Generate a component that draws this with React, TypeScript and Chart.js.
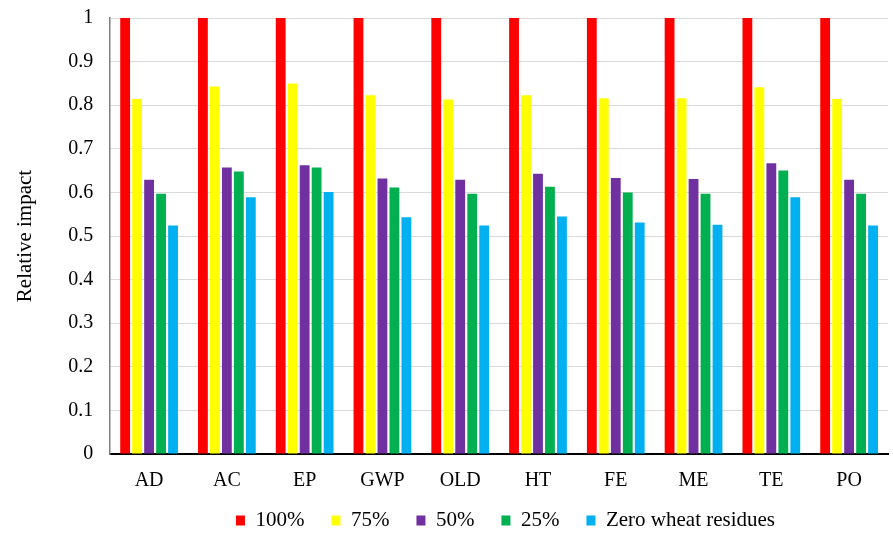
import React, { useEffect, useRef } from "react";
import { Chart, registerables } from "chart.js";

Chart.register(...registerables);

const categories = ["AD", "AC", "EP", "GWP", "OLD", "HT", "FE", "ME", "TE", "PO"];
const seriesNames = ["100%", "75%", "50%", "25%", "Zero wheat residues"];
const s100 = [1, 1, 1, 1, 1, 1, 1, 1, 1, 1];
const s75 = [0.814, 0.843, 0.85, 0.823, 0.813, 0.823, 0.816, 0.816, 0.841, 0.814];
const s50 = [0.629, 0.657, 0.662, 0.632, 0.629, 0.643, 0.633, 0.631, 0.667, 0.629];
const s25 = [0.597, 0.648, 0.657, 0.611, 0.597, 0.613, 0.6, 0.597, 0.65, 0.597];
const s0 = [0.524, 0.589, 0.601, 0.543, 0.524, 0.545, 0.531, 0.526, 0.589, 0.524];
const colors = ["#ff0000", "#ffff00", "#7030a0", "#00b050", "#00b0f0"];

const legendShift = {
  id: "legendShift",
  afterLayout(chart: any) {
    const lg = chart.legend;
    if (lg) {
      lg.top -= 25;
      lg.bottom -= 25;
      lg.left += 55;
      lg.right += 55;
    }
  },
};

export default function App() {
  const ref = useRef<HTMLCanvasElement>(null);
  useEffect(() => {
    if (!ref.current) return;
    const font = "'Liberation Serif', 'Times New Roman', serif";
    const data = [s100, s75, s50, s25, s0];
    const chart = new Chart(ref.current, {
      type: "bar",
      data: {
        labels: categories,
        datasets: data.map((d, i) => ({
          label: seriesNames[i],
          data: d,
          backgroundColor: colors[i],
          borderWidth: 0,
          barPercentage: 0.82,
          categoryPercentage: 0.77,
        })),
      },
      options: {
        animation: false,
        responsive: true,
        maintainAspectRatio: false,
        layout: { padding: { left: 13, right: 5, top: 18, bottom: -33 } },
        plugins: {
          legend: {
            position: "bottom",
            labels: {
              boxWidth: 9,
              boxHeight: 10,
              padding: 27,
              color: "#000",
              font: { family: font, size: 21 },
            },
          },
          tooltip: { enabled: false },
        },
        scales: {
          x: {
            grid: { display: false, drawTicks: false },
            border: { color: "#000", width: 2 },
            ticks: { color: "#000", font: { family: font, size: 20 }, padding: 15 },
          },
          y: {
            min: 0,
            max: 1,
            ticks: {
              stepSize: 0.1,
              color: "#000",
              font: { family: font, size: 20 },
              padding: 0,
              callback: (v: any) => String(Math.round(Number(v) * 10) / 10),
            },
            grid: {
              color: "#d9d9d9",
              lineWidth: 1,
              drawTicks: true,
              tickLength: 17,
              tickColor: "rgba(0,0,0,0)",
            },
            border: { color: "#7f7f7f", width: 1.5 },
            title: {
              display: true,
              text: "Relative impact",
              color: "#000",
              font: { family: font, size: 21 },
              padding: { top: 0, bottom: 30 },
            },
          },
        },
      },
      plugins: [legendShift],
    });
    return () => chart.destroy();
  }, []);
  return (
    <div style={{ position: "fixed", left: 0, top: 0, width: 893, height: 533, background: "#fff" }}>
      <canvas ref={ref} />
    </div>
  );
}
